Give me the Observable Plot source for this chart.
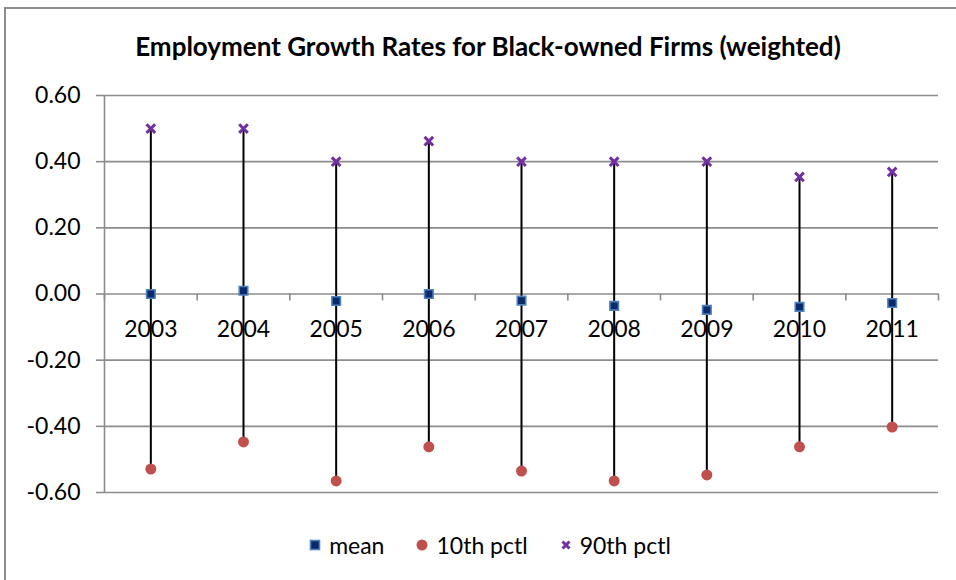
<!DOCTYPE html>
<html>
<head>
<meta charset="utf-8">
<script src="https://cdn.jsdelivr.net/npm/d3@7"></script>
<script src="https://cdn.jsdelivr.net/npm/@observablehq/plot@0.6"></script>
<style>
  html, body { margin: 0; padding: 0; background: #fff; overflow: hidden; }
  body { width: 956px; height: 580px; position: relative; font-family: Lato, "Noto Sans", sans-serif; }
  #frame { position: absolute; left: 4px; top: 7px; width: 980px; height: 600px; border: 2px solid #8c8c8c; box-sizing: border-box; }
  #title { position: absolute; left: 0; width: 976px; top: 31px; text-align: center; font-weight: bold; font-size: 26px; line-height: 1.2; color: #000; white-space: nowrap; }
  #chart { position: absolute; left: 0; top: 70px; }
  #legend { position: absolute; left: 0; width: 980px; top: 531px; display: flex; justify-content: center; align-items: center; font-size: 23px; color: #000; gap: 0; }
  .item { display: flex; align-items: center; margin: 0 16px; }
  .item svg { margin-right: 8px; }
</style>
</head>
<body>
<div id="frame"></div>
<div id="title">Employment Growth Rates for Black-owned Firms (weighted)</div>
<div id="chart"></div>
<div id="legend"></div>
<script>
const years = [2003, 2004, 2005, 2006, 2007, 2008, 2009, 2010, 2011];
const meanValues = [0.000, 0.010, -0.021, 0.000, -0.020, -0.036, -0.048, -0.039, -0.027];
const p10Values = [-0.529, -0.447, -0.565, -0.462, -0.535, -0.565, -0.547, -0.462, -0.402];
const p90Values = [0.500, 0.500, 0.400, 0.462, 0.400, 0.400, 0.400, 0.354, 0.369];
const yTicks = [-0.6, -0.4, -0.2, 0, 0.2, 0.4, 0.6];
const seriesNames = ["mean", "10th pctl", "90th pctl"];

const data = years.map((y, i) => ({year: y, mean: meanValues[i], p10: p10Values[i], p90: p90Values[i]}));
const xDomain = [years[0] - 0.5, years[years.length - 1] + 0.5];
const boundaries = years.map(y => y - 0.5).concat([years[years.length - 1] + 0.5]);

const colors = {mean: "#0b2a6b", meanStroke: "#4f81bd", p10: "#c0504d", p90: "#7030a0"};

const chart = Plot.plot({
  width: 956,
  height: 450,
  marginTop: 25,
  marginBottom: 28,
  marginLeft: 104,
  marginRight: 18,
  style: {fontFamily: "Lato, 'Noto Sans', sans-serif", overflow: "visible", background: "transparent"},
  x: {domain: xDomain, axis: null},
  y: {domain: [yTicks[0], yTicks[yTicks.length - 1]], axis: null},
  marks: [
    Plot.ruleY(yTicks, {stroke: "#8c8c8c", strokeWidth: 1.6}),
    Plot.ruleX([xDomain[0]], {y1: yTicks[0], y2: yTicks[yTicks.length - 1], stroke: "#8c8c8c", strokeWidth: 1.6}),
    Plot.axisY({ticks: yTicks, tickSize: 8, tickPadding: 16, fontSize: 23, stroke: "#8c8c8c", strokeWidth: 1.6, tickFormat: d => d.toFixed(2), color: "#000", label: null}),
    Plot.ruleX(boundaries, {x: d => d, y1: 0, y2: 0, insetBottom: -7, stroke: "#8c8c8c", strokeWidth: 1.6}),
    Plot.text(years, {x: d => d, y: () => 0, dy: 36, text: d => String(d), fontSize: 23, fill: "#000"}),
    Plot.ruleX(data, {x: "year", y1: "p10", y2: "p90", stroke: "#000", strokeWidth: 2}),
    Plot.dot(data, {x: "year", y: "p10", r: 5.5, fill: colors.p10, stroke: null}),
    Plot.dot(data, {x: "year", y: "p90", r: 4, symbol: "times", stroke: colors.p90, strokeWidth: 3}),
    Plot.dot(data, {x: "year", y: "mean", r: 4.8, symbol: "square", fill: colors.mean, stroke: colors.meanStroke, strokeWidth: 1.6})
  ]
});
document.getElementById("chart").appendChild(chart);

const legend = document.getElementById("legend");
const symbols = [
  '<svg width="12" height="12"><rect x="1.5" y="1.5" width="9" height="9" fill="' + colors.mean + '" stroke="' + colors.meanStroke + '" stroke-width="1.6"/></svg>',
  '<svg width="12" height="12"><circle cx="6" cy="6" r="5.5" fill="' + colors.p10 + '"/></svg>',
  '<svg width="12" height="12"><path d="M2.5,2.5L9.5,9.5M9.5,2.5L2.5,9.5" stroke="' + colors.p90 + '" stroke-width="3"/></svg>'
];
seriesNames.forEach((name, i) => {
  const el = document.createElement("div");
  el.className = "item";
  el.innerHTML = symbols[i] + '<span>' + name + '</span>';
  legend.appendChild(el);
});
</script>
</body>
</html>
